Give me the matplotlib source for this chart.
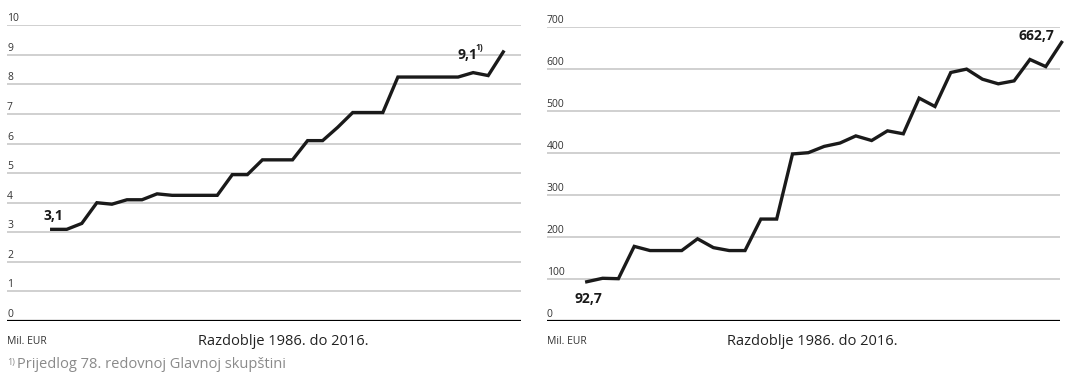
import numpy as np
import matplotlib.pyplot as plt

plt.rcParams['font.family'] = ['Open Sans', 'DejaVu Sans']

years = list(range(1986, 2017))

# lijevo: mil. EUR, 1986-2016
left_vals = [3.1, 3.1, 3.3, 4.0, 3.95, 4.1, 4.1, 4.3, 4.25, 4.25, 4.25, 4.25,
             4.95, 4.95, 5.45, 5.45, 5.45, 6.1, 6.1, 6.55, 7.05, 7.05, 7.05,
             8.25, 8.25, 8.25, 8.25, 8.25, 8.4, 8.3, 9.1]
# desno: mil. EUR, 1986-2016
right_vals = [92.7, 101, 100, 177, 167, 167, 167, 195, 174, 167, 167, 242, 242,
              397, 400, 415, 423, 440, 429, 452, 445, 530, 510, 591, 599, 575,
              564, 571, 622, 605, 662.7]

left_ticks = list(range(0, 11))
right_ticks = list(range(0, 701, 100))

xlabel = 'Razdoblje 1986. do 2016.'
unit = 'Mil. EUR'
footnote = 'Prijedlog 78. redovnoj Glavnoj skupštini'

line_c = '#1a1a1a'
grid_c = '#c4c4c4'
tick_c = '#333333'

fig = plt.figure(figsize=(10.65, 3.8), dpi=100)
ax1 = fig.add_axes([7/1065, 1-321/380, 514/1065, (321-25.3)/380])
ax2 = fig.add_axes([546.7/1065, 1-320.7/380, 513.3/1065, (320.7-26.7)/380])


def setup(ax, ticks, xlim):
    ax.set_xlim(*xlim)
    ax.set_ylim(ticks[0], ticks[-1])
    for s in ax.spines.values():
        s.set_visible(False)
    ax.set_xticks([])
    ax.set_yticks([])
    for t in ticks:
        if t == 0:
            ax.axhline(t, color='black', lw=1.6, zorder=1)
        else:
            ax.axhline(t, color=grid_c, lw=1.1, zorder=1)
        ax.annotate(str(t), (0, t), xycoords=('axes fraction', 'data'),
                    xytext=(0, 4), textcoords='offset pixels',
                    ha='left', va='baseline', fontsize=7.5, color=tick_c)


setup(ax1, left_ticks, (1986 - 2.97, 2016 + 1.18))
setup(ax2, right_ticks, (1986 - 2.53, 2016 - 0.1))

ax1.plot(years, left_vals, color=line_c, lw=2.4, solid_joinstyle='miter',
         clip_on=False, zorder=3)
ax2.plot(years, right_vals, color=line_c, lw=2.4, solid_joinstyle='miter',
         clip_on=False, zorder=3)


def fmt(v):
    return '{:.1f}'.format(v).replace('.', ',')


# oznake prve i zadnje vrijednosti
lab = dict(textcoords='offset pixels', fontsize=10, fontweight='bold',
           color=line_c, annotation_clip=False)
ax1.annotate(fmt(left_vals[0]), (years[0], left_vals[0]), xytext=(2, 13),
             ha='center', va='center', **lab)
ax1.annotate(fmt(left_vals[-1]), (years[-1], left_vals[-1]), xytext=(-26, -3),
             ha='right', va='center', **lab)
ax1.annotate('1)', (years[-1], left_vals[-1]), xytext=(-27.5, 4),
             textcoords='offset pixels', ha='left', va='center',
             fontsize=6, fontweight='bold', color=line_c, annotation_clip=False)
ax2.annotate(fmt(right_vals[0]), (years[0], right_vals[0]), xytext=(2, -17),
             ha='center', va='center', **lab)
ax2.annotate(fmt(right_vals[-1]), (years[-1], right_vals[-1]), xytext=(-7, 6),
             ha='right', va='center', **lab)

fig.text(7/1065, 1-342/380, unit, ha='left', va='center', fontsize=7.5, color=tick_c)
fig.text(546.7/1065, 1-342/380, unit, ha='left', va='center', fontsize=7.5, color=tick_c)
fig.text(283.7/1065, 1-341.5/380, xlabel, ha='center', va='center', fontsize=10.5, color='#222222')
fig.text(812/1065, 1-341.5/380, xlabel, ha='center', va='center', fontsize=10.5, color='#222222')

fig.text(7/1065, 1-362/380, '1)', ha='left', va='center', fontsize=6.5, color='#8a8a8a')
fig.text(17/1065, 1-364/380, footnote, ha='left', va='center', fontsize=10.5, color='#8a8a8a')

fig.savefig('out.png', dpi=100)
